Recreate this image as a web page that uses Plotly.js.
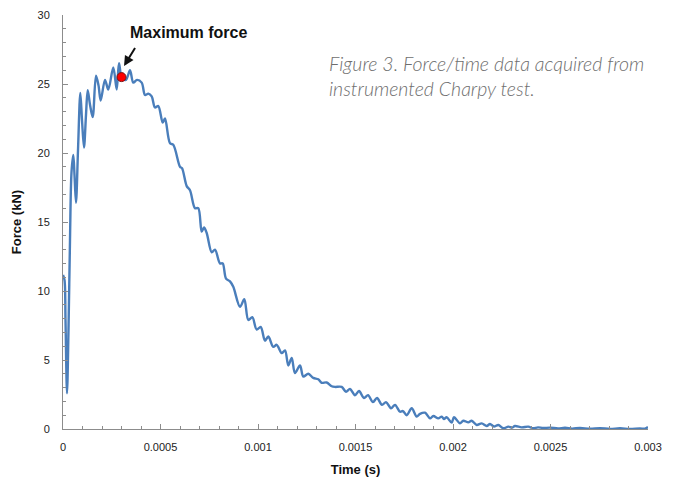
<!DOCTYPE html>
<html>
<head>
<meta charset="utf-8">
<script src="https://cdn.plot.ly/plotly-3.0.1.min.js"></script>
<style>html,body{margin:0;padding:0;background:#fff;}#chart{width:677px;height:479px;}</style>
</head>
<body>
<div id="chart"></div>
<script>
// Time (s)
var timeS = [
0, 7.7e-6, 12.8e-6, 20.5e-6, 28.2e-6, 35.9e-6, 43.6e-6, 52.8e-6, 59.0e-6, 66.7e-6,
76.9e-6, 88.7e-6, 97.4e-6, 107.7e-6, 117.9e-6, 126.7e-6, 138.5e-6, 152.3e-6, 169.2e-6, 182.1e-6,
193.3e-6, 215.4e-6, 232.3e-6, 257.9e-6, 275.4e-6, 287.2e-6, 302.6e-6, 323.1e-6, 343.6e-6, 360.5e-6,
379.5e-6, 403.6e-6, 420.5e-6, 437.4e-6, 454.9e-6, 471.8e-6, 488.7e-6, 511.3e-6, 523.1e-6, 548.7e-6,
565.6e-6, 600.0e-6, 610.3e-6, 634.4e-6, 651.3e-6, 676.9e-6, 693.8e-6, 711.3e-6, 723.1e-6, 736.9e-6,
762.6e-6, 779.5e-6, 805.1e-6, 819.0e-6, 835.9e-6, 856.4e-6, 873.3e-6, 907.7e-6, 929.7e-6, 950.3e-6,
970.8e-6, 993.3e-6, 1013.8e-6, 1035.9e-6, 1052.8e-6, 1078.5e-6, 1095.9e-6, 1121.5e-6, 1138.5e-6, 1155.4e-6,
1172.8e-6, 1189.7e-6, 1215.4e-6, 1232.3e-6, 1257.9e-6, 1283.6e-6, 1309.2e-6, 1326.7e-6, 1352.3e-6, 1377.9e-6,
1394.9e-6, 1429.2e-6, 1451.3e-6, 1471.8e-6, 1497.4e-6, 1517.9e-6, 1543.6e-6, 1564.1e-6, 1589.7e-6, 1610.3e-6,
1635.9e-6, 1656.4e-6, 1682.1e-6, 1702.6e-6, 1728.2e-6, 1743.6e-6, 1762.6e-6, 1788.2e-6, 1813.8e-6, 1830.8e-6,
1856.4e-6, 1882.1e-6, 1899.0e-6, 1924.6e-6, 1942.1e-6, 1953.8e-6, 1967.7e-6, 1993.3e-6, 2005.1e-6, 2035.9e-6,
2052.8e-6, 2078.5e-6, 2095.9e-6, 2121.5e-6, 2147.2e-6, 2172.8e-6, 2189.7e-6, 2210.3e-6, 2232.3e-6, 2257.9e-6,
2283.6e-6, 2302.6e-6, 2317.9e-6, 2352.3e-6, 2386.2e-6, 2410.3e-6, 2435.9e-6, 2461.5e-6, 2497.4e-6, 2538.5e-6,
2574.4e-6, 2610.3e-6, 2651.3e-6, 2702.6e-6, 2753.8e-6, 2805.1e-6, 2856.4e-6, 2907.7e-6, 2959.0e-6, 2984.6e-6,
3000e-6
];
// Force (kN)
var forceKN = [
11.16, 10.8, 7.9, 2.6, 7.2, 13.7, 18.6, 19.85, 18.4, 16.4,
20.2, 24.35, 22.4, 20.4, 22.75, 24.55, 23.5, 22.6, 25.6, 24.9,
23.8, 25.3, 24.6, 26.2, 24.6, 26.5, 25.4, 25.3, 26.0, 25.1,
25.3, 25.1, 24.2, 24.3, 24.1, 23.3, 23.4, 22.2, 22.5, 20.7,
20.6, 19.0, 18.9, 17.6, 17.3, 16.0, 16.0, 14.3, 14.6, 14.2,
12.8, 13.0, 12.0, 12.0, 10.9, 10.7, 10.3, 8.85, 9.4, 7.9,
8.1, 7.2, 7.4, 6.4, 6.7, 5.95, 6.1, 5.5, 5.7, 4.6,
5.15, 4.05, 4.6, 3.8, 4.0, 3.7, 3.6, 3.35, 3.37, 3.1,
3.05, 3.05, 2.7, 2.9, 2.45, 2.75, 2.25, 2.45, 1.95, 2.25,
1.75, 1.95, 1.5, 1.75, 1.25, 1.3, 1.0, 1.5, 0.9, 1.1,
1.18, 0.77, 0.94, 0.77, 0.9, 0.72, 0.85, 0.46, 0.85, 0.41,
0.6, 0.48, 0.6, 0.29, 0.41, 0.22, 0.36, 0.18, 0.29, 0.05,
0.17, 0.1, 0.22, 0.12, 0.17, 0.05, 0.12, 0.07, 0.1, 0.04,
0.09, 0.03, 0.07, 0.02, 0.06, 0.01, 0.05, 0.01, 0.04, 0.02,
0.15
];
// Maximum force marker
var maxTime = [0.0003];
var maxForce = [25.5];
// Arrow head position (points at the highest peak)
var arrowTime = [0.000313];
var arrowForce = [26.3];

var xTickVals = [0, 0.0005, 0.001, 0.0015, 0.002, 0.0025, 0.003];
var xTickText = ["0", "0.0005", "0.001", "0.0015", "0.002", "0.0025", "0.003"];
var yTickVals = [0, 5, 10, 15, 20, 25, 30];

var axisGrey = '#8c8c8c';
var traces = [
  {
    x: timeS, y: forceKN, type: 'scatter', mode: 'lines',
    line: {color: '#4a7ebb', width: 2.4, shape: 'spline', smoothing: 0.9},
    hoverinfo: 'skip', showlegend: false
  },
  {
    x: maxTime, y: maxForce, type: 'scatter', mode: 'markers',
    marker: {color: '#ff0000', size: 9, line: {color: '#7a1010', width: 1}},
    showlegend: false
  }
];

var layout = {
  width: 677, height: 479,
  margin: {l: 63, r: 29, t: 15, b: 50},
  paper_bgcolor: '#ffffff', plot_bgcolor: 'rgba(0,0,0,0)',
  font: {family: 'Liberation Sans, Arial, sans-serif', color: '#222'},
  xaxis: {
    range: [0, 0.003], tickvals: xTickVals, ticktext: xTickText,
    showgrid: false, zeroline: false, showline: true, linecolor: axisGrey, linewidth: 1,
    ticks: 'inside', ticklen: 5, tickcolor: axisGrey, ticklabelstandoff: 8,
    tickfont: {size: 11, color: '#222'},
    minor: {dtick: 0.0001, ticks: 'inside', ticklen: 3, tickcolor: axisGrey, showgrid: false},
    title: {text: '<b>Time (s)</b>', font: {size: 13, color: '#111'}, standoff: 12}
  },
  yaxis: {
    range: [0, 30], tickvals: yTickVals,
    showgrid: false, zeroline: false, showline: true, linecolor: axisGrey, linewidth: 1,
    ticks: 'inside', ticklen: 5, tickcolor: axisGrey, ticklabelstandoff: 10,
    tickfont: {size: 11, color: '#222'},
    minor: {dtick: 1, ticks: 'inside', ticklen: 3, tickcolor: axisGrey, showgrid: false},
    title: {text: '<b>Force (kN)</b>', font: {size: 13, color: '#111'}, standoff: 12}
  },
  annotations: [
    {
      // arrow only
      x: arrowTime[0], y: arrowForce[0], xref: 'x', yref: 'y',
      ax: 14, ay: -23, text: ' ', showarrow: true,
      arrowhead: 2, arrowsize: 1, arrowwidth: 2, arrowcolor: '#111', standoff: 0
    },
    {
      xref: 'paper', yref: 'paper', x: (188 - 63) / 585, y: 1 - (33 - 15) / 414,
      xanchor: 'center', yanchor: 'middle', showarrow: false,
      text: '<b>Maximum force</b>',
      font: {size: 16, color: '#111', family: 'Liberation Sans, Arial, sans-serif'}
    },
    {
      xref: 'paper', yref: 'paper', x: (327 - 63) / 585, y: 1 - (50 - 15) / 414,
      xanchor: 'left', yanchor: 'top', align: 'left', showarrow: false,
      text: 'Figure 3. Force/time data acquired from<br>instrumented Charpy test.',
      font: {size: 19.5, color: '#6e6e6e', family: 'Lato, Open Sans, sans-serif', style: 'italic', weight: 300}
    }
  ]
};
Plotly.newPlot('chart', traces, layout, {displayModeBar: false, staticPlot: true});
</script>
</body>
</html>
